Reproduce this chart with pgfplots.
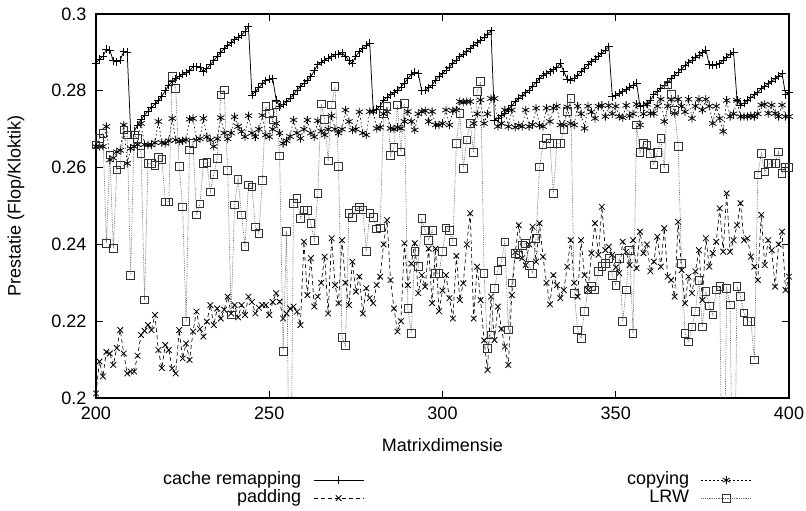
\documentclass[border=0pt]{standalone}
\usepackage{fontspec}
\setmainfont{Liberation Sans}
\usepackage{pgfplots}
\usepackage{pgfplotstable}
\pgfplotsset{compat=1.18}
\newcommand{\lbl}{\fontsize{18}{21}\selectfont}

\pgfplotstableread{
x y
200 .2872
201 .2882
202 .2890
203 .2908
204 .2905
205 .2878
206 .2876
207 .2880
208 .2902
209 .2900
210 .2695
211 .2694
212 .2710
213 .2725
214 .2737
215 .2747
216 .2756
217 .2766
218 .2775
219 .2786
220 .2800
221 .2815
222 .2824
223 .2832
224 .2838
225 .2843
226 .2847
227 .2852
228 .2863
229 .2863
230 .2862
231 .2850
232 .2858
233 .2868
234 .2878
235 .2890
236 .2900
237 .2910
238 .2918
239 .2925
240 .2933
241 .2940
242 .2945
243 .2955
244 .2967
245 .2789
246 .2798
247 .2808
248 .2818
249 .2826
250 .2830
251 .2832
252 .2776
253 .2759
254 .2765
255 .2772
256 .2780
257 .2790
258 .2802
259 .2811
260 .2820
261 .2828
262 .2837
263 .2852
264 .2868
265 .2874
266 .2880
267 .2885
268 .2889
269 .2894
270 .2896
271 .2899
272 .2890
273 .2878
274 .2872
275 .2890
276 .2902
277 .2910
278 .2918
279 .2924
280 .2750
281 .2752
282 .2760
283 .2776
284 .2783
285 .2790
286 .2795
287 .2802
288 .2810
289 .2820
290 .2832
291 .2843
292 .2848
293 .2845
294 .2800
295 .2802
296 .2808
297 .2815
298 .2828
299 .2838
300 .2845
301 .2854
302 .2862
303 .2872
304 .2880
305 .2889
306 .2895
307 .2902
308 .2910
309 .2918
310 .2925
311 .2932
312 .2940
313 .2948
314 .2956
315 .2724
316 .2728
317 .2735
318 .2741
319 .2752
320 .2762
321 .2772
322 .2780
323 .2787
324 .2795
325 .2802
326 .2812
327 .2822
328 .2832
329 .2840
330 .2845
331 .2850
332 .2855
333 .2860
334 .2872
335 .2850
336 .2830
337 .2828
338 .2833
339 .2840
340 .2850
341 .2858
342 .2868
343 .2876
344 .2883
345 .2890
346 .2898
347 .2906
348 .2915
349 .2785
350 .2788
351 .2793
352 .2798
353 .2803
354 .2810
355 .2815
356 .2820
357 .2759
358 .2762
359 .2766
360 .2775
361 .2790
362 .2798
363 .2806
364 .2815
365 .2823
366 .2832
367 .2841
368 .2849
369 .2857
370 .2866
371 .2873
372 .2880
373 .2887
374 .2893
375 .2899
376 .2906
377 .2868
378 .2866
379 .2868
380 .2871
381 .2880
382 .2888
383 .2895
384 .2900
385 .2776
386 .2763
387 .2768
388 .2775
389 .2782
390 .2790
391 .2797
392 .2805
393 .2812
394 .2818
395 .2825
396 .2832
397 .2838
398 .2845
399 .2790
400 .2795
}\cache

\pgfplotstableread{
x y
200 .2655
201 .2655
202 .2655
203 .2707
204 .2620
205 .2625
206 .2641
207 .2645
208 .2711
209 .2611
210 .2650
211 .2655
212 .2660
213 .2715
214 .2660
215 .2659
216 .2659
217 .2665
218 .2720
219 .2665
220 .2663
221 .2670
222 .2728
223 .2672
224 .2668
225 .2670
226 .2672
227 .2726
228 .2728
229 .2672
230 .2675
231 .2728
232 .2680
233 .2672
234 .2655
235 .2675
236 .2730
237 .2690
238 .2675
239 .2690
240 .2732
241 .2707
242 .2694
243 .2680
244 .2735
245 .2690
246 .2680
247 .2700
248 .2736
249 .2685
250 .2680
251 .2700
252 .2715
253 .2690
254 .2663
255 .2670
256 .2681
257 .2724
258 .2690
259 .2676
260 .2700
261 .2724
262 .2690
263 .2680
264 .2722
265 .2695
266 .2685
267 .2700
268 .2735
269 .2700
270 .2690
271 .2700
272 .2750
273 .2720
274 .2698
275 .2700
276 .2745
277 .2690
278 .2685
279 .2746
280 .2746
281 .2702
282 .2705
283 .2740
284 .2746
285 .2702
286 .2700
287 .2705
288 .2702
289 .2720
290 .2746
291 .2720
292 .2698
293 .2740
294 .2746
295 .2748
296 .2720
297 .2746
298 .2711
299 .2711
300 .2715
301 .2750
302 .2711
303 .2748
304 .2750
305 .2772
306 .2770
307 .2772
308 .2772
309 .2715
310 .2740
311 .2776
312 .2715
313 .2740
314 .2780
315 .2780
316 .2707
317 .2715
318 .2750
319 .2707
320 .2750
321 .2705
322 .2710
323 .2707
324 .2750
325 .2707
326 .2712
327 .2755
328 .2710
329 .2707
330 .2755
331 .2720
332 .2755
333 .2760
334 .2711
335 .2711
336 .2758
337 .2715
338 .2711
339 .2760
340 .2740
341 .2702
342 .2760
343 .2745
344 .2728
345 .2760
346 .2762
347 .2733
348 .2762
349 .2740
350 .2760
351 .2733
352 .2730
353 .2762
354 .2735
355 .2740
356 .2765
357 .2711
358 .2740
359 .2765
360 .2741
361 .2741
362 .2760
363 .2778
364 .2720
365 .2760
366 .2778
367 .2741
368 .2778
369 .2760
370 .2745
371 .2778
372 .2728
373 .2760
374 .2778
375 .2750
376 .2778
377 .2760
378 .2715
379 .2760
380 .2728
381 .2694
382 .2775
383 .2733
384 .2740
385 .2775
386 .2733
387 .2733
388 .2733
389 .2735
390 .2733
391 .2740
392 .2763
393 .2765
394 .2741
395 .2763
396 .2741
397 .2733
398 .2763
399 .2733
400 .2733
}\copying

\pgfplotstableread{
x y
200 .2012
201 .2095
202 .2056
203 .2120
204 .2116
205 .2086
206 .2130
207 .2177
208 .2116
209 .2064
210 .2069
211 .2069
212 .2110
213 .2164
214 .2175
215 .2190
216 .2177
217 .2216
218 .2125
219 .2078
220 .2138
221 .2125
222 .2077
223 .2064
224 .2177
225 .2103
226 .2142
227 .2099
228 .2173
229 .2225
230 .2180
231 .2160
232 .2199
233 .2242
234 .2190
235 .2233
236 .2207
237 .2230
238 .2264
239 .2220
240 .2242
241 .2210
242 .2242
243 .2216
244 .2264
245 .2250
246 .2220
247 .2235
248 .2242
249 .2242
250 .2216
251 .2250
252 .2273
253 .2251
254 .2207
255 .2220
256 .2233
257 .2238
258 .2225
259 .2190
260 .2407
261 .2268
262 .2364
263 .2238
264 .2264
265 .2300
266 .2368
267 .2220
268 .2416
269 .2294
270 .2247
271 .2411
272 .2300
273 .2242
274 .2355
275 .2277
276 .2316
277 .2220
278 .2286
279 .2260
280 .2247
281 .2294
282 .2316
283 .2400
284 .2463
285 .2307
286 .2233
287 .2173
288 .2200
289 .2403
290 .2294
291 .2350
292 .2403
293 .2273
294 .2320
295 .2290
296 .2389
297 .2247
298 .2389
299 .2226
300 .2280
301 .2320
302 .2260
303 .2207
304 .2370
305 .2255
306 .2299
307 .2400
308 .2481
309 .2207
310 .2342
311 .2255
312 .2150
313 .2073
314 .2264
315 .2151
316 .2238
317 .2180
318 .2134
319 .2086
320 .2268
321 .2380
322 .2450
323 .2364
324 .2346
325 .2400
326 .2446
327 .2355
328 .2455
329 .2368
330 .2300
331 .2244
332 .2320
333 .2294
334 .2260
335 .2281
336 .2342
337 .2411
338 .2300
339 .2264
340 .2411
341 .2320
342 .2281
343 .2377
344 .2455
345 .2373
346 .2498
347 .2385
348 .2394
349 .2373
350 .2340
351 .2325
352 .2407
353 .2381
354 .2346
355 .2411
356 .2338
357 .2433
358 .2377
359 .2400
360 .2330
361 .2355
362 .2420
363 .2342
364 .2442
365 .2316
366 .2307
367 .2264
368 .2459
369 .2333
370 .2247
371 .2316
372 .2273
373 .2330
374 .2385
375 .2255
376 .2416
377 .2342
378 .2377
379 .2407
380 .2494
381 .2381
382 .2533
383 .2381
384 .2411
385 .2450
386 .2507
387 .2411
388 .2416
389 .2368
390 .2342
391 .2307
392 .2477
393 .2346
394 .2411
395 .2385
396 .2290
397 .2400
398 .2433
399 .2281
400 .2316
}\padding

\pgfplotstableread{
x y
200 .2659
201 .2676
202 .2689
203 .2403
204 .2633
205 .2390
206 .2594
207 .2607
208 .2698
209 .2685
210 .2320
211 .2685
212 .2676
213 .2637
214 .2255
215 .2611
216 .2611
217 .2605
218 .2627
219 .2622
220 .2511
221 .2511
222 .2838
223 .2806
224 .2603
225 .2498
226 .2199
227 .2646
228 .2663
229 .2477
230 .2505
231 .2611
232 .2613
233 .2537
234 .2583
235 .2624
236 .2789
237 .2802
238 .2592
239 .2216
240 .2503
241 .2570
242 .2477
243 .2394
244 .2555
245 .2550
246 .2446
247 .2429
248 .2566
249 .2759
250 .2741
251 .2724
252 .2763
253 .2630
254 .2121
255 .2434
256 .1500
257 .2507
258 .2520
259 .2468
260 .2490
261 .2488
262 .2455
263 .2411
264 .2533
265 .2766
266 .2725
267 .2617
268 .2763
269 .2812
270 .2603
271 .2158
272 .2137
273 .2480
274 .2470
275 .2490
276 .2498
277 .2490
278 .2382
279 .2480
280 .2470
281 .2440
282 .2443
283 .2741
284 .2759
285 .2631
286 .2653
287 .2763
288 .2641
289 .2767
290 .2233
291 .2168
292 .2382
293 .2342
294 .2467
295 .2436
296 .2411
297 .2436
298 .2325
299 .2325
300 .2382
301 .2443
302 .2436
303 .2407
304 .2663
305 .2741
306 .2598
307 .2672
308 .2715
309 .2639
310 .2798
311 .2824
312 .2325
313 .2129
314 .2164
315 .2286
316 .2333
317 .2355
318 .2407
319 .2177
320 .2300
321 .2377
322 .2373
323 .2398
324 .2403
325 .2346
326 .2325
327 .2416
328 .2602
329 .2659
330 .2676
331 .2663
332 .2533
333 .2663
334 .2663
335 .2700
336 .2746
337 .2780
338 .2273
339 .2177
340 .2155
341 .2226
342 .2281
343 .2290
344 .2281
345 .2330
346 .2342
347 .2350
348 .2364
349 .2320
350 .2294
351 .2364
352 .2199
353 .2281
354 .2385
355 .2168
356 .2711
357 .2639
358 .2663
359 .2659
360 .2637
361 .2607
362 .2640
363 .2676
364 .2598
365 .2815
366 .2790
367 .2750
368 .2655
369 .2350
370 .2168
371 .2146
372 .2185
373 .2226
374 .2307
375 .2185
376 .2277
377 .2240
378 .2216
379 .2281
380 .2290
381 .1500
382 .2286
383 .2242
384 .1500
385 .2290
386 .2264
387 .2222
388 .2199
389 .2199
390 .2099
391 .2581
392 .2637
393 .2589
394 .2611
395 .2611
396 .2611
397 .2641
398 .2585
399 .2600
400 .2600
}\lrw

\begin{document}
\begin{tikzpicture}
\useasboundingbox (-96pt,-113pt) rectangle (710pt,398pt);
\begin{axis}[
  at={(0pt,0pt)}, anchor=south west,
  scale only axis, width=693pt, height=384pt,
  xmin=200, xmax=400, ymin=0.2, ymax=0.3,
  xtick={200,250,300,350,400},
  ytick={0.2,0.22,0.24,0.26,0.28,0.3},
  scaled y ticks=false,
  /pgf/number format/assume math mode=true,
  yticklabel style={/pgf/number format/fixed, /pgf/number format/precision=2, xshift=-6pt},
  xticklabel style={yshift=-5pt},
  tick label style={font=\lbl},
  label style={font=\lbl},
  tick align=inside, major tick length=7pt,
  tick style={black, line width=0.9pt},
  axis line style={line width=1.2pt},
  xlabel={Matrixdimensie},
  ylabel={Prestatie (Flop/Kloktik)},
  xlabel style={at={(axis description cs:0.5,-0.1406)}, anchor=base},
  ylabel style={at={(axis description cs:-0.1154,0.5)}, anchor=center},
  legend columns=2, legend plot pos=right, legend cell align=right,
  legend style={draw=none, fill=none, font=\lbl, inner sep=0pt,
    at={(axis description cs:0.0952,-0.19)}, anchor=north west,
    nodes={inner sep=1pt, text height=12pt, text depth=4pt},
    /tikz/every odd column/.style={column sep=11pt},
    /tikz/every even column/.style={column sep=262pt}},
  legend image code/.code={\draw[mark repeat=2,mark phase=2] plot coordinates {(0pt,0pt) (25pt,0pt) (50pt,0pt)};},
]
\addplot[black, line width=0.75pt, mark=+, mark size=4pt, mark options={solid, line width=0.8pt}] table {\cache};
\addlegendentry{cache remapping}
\addplot[black, line width=0.65pt, dash pattern=on 1.5pt off 2.5pt, mark=asterisk, mark size=4.2pt, mark options={solid, line width=0.8pt}] table {\copying};
\addlegendentry{copying}
\addplot[black, line width=0.65pt, dash pattern=on 4pt off 3pt, mark=x, mark size=4pt, mark options={solid, line width=0.8pt}] table {\padding};
\addlegendentry{padding}
\addplot[black!60, line width=0.65pt, dash pattern=on 0.8pt off 1pt, mark=square, mark size=3.8pt, mark options={solid, black!80, line width=0.8pt}] table {\lrw};
\addlegendentry{LRW}
\end{axis}
\end{tikzpicture}
\end{document}
